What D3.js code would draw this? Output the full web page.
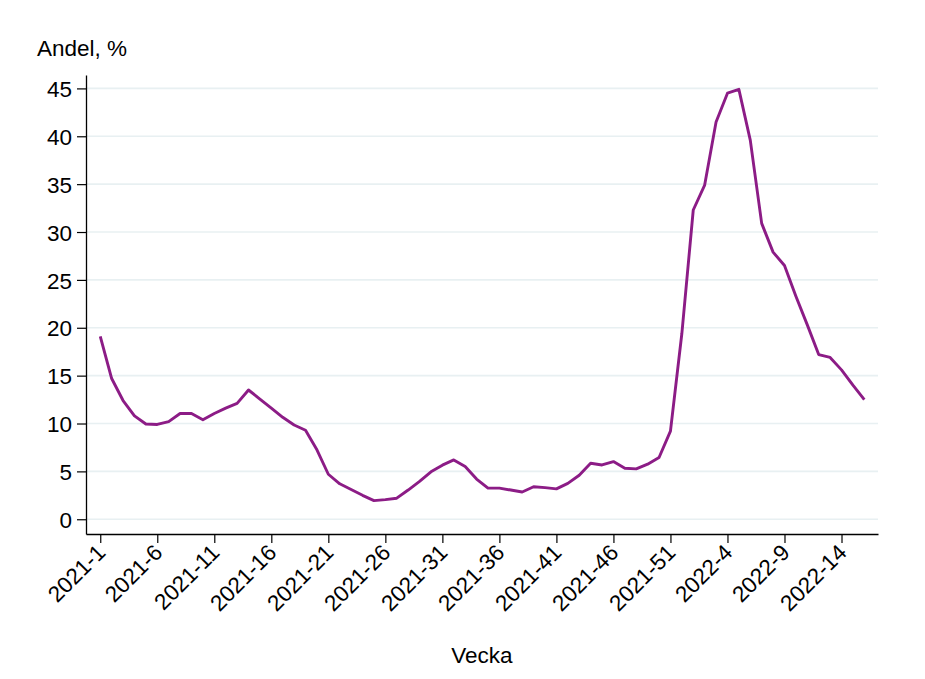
<!DOCTYPE html>
<html><head><meta charset="utf-8">
<script src="https://cdn.jsdelivr.net/npm/d3@7"></script>
<style>body{margin:0;background:#fff}text{font-family:"Liberation Sans",Arial,sans-serif;fill:#000}</style>
</head><body><svg id="c" width="925" height="679"></svg>
<script>
const weeks = [
"2021-1","2021-2","2021-3","2021-4","2021-5","2021-6","2021-7","2021-8","2021-9","2021-10",
"2021-11","2021-12","2021-13","2021-14","2021-15","2021-16","2021-17","2021-18","2021-19","2021-20",
"2021-21","2021-22","2021-23","2021-24","2021-25","2021-26","2021-27","2021-28","2021-29","2021-30",
"2021-31","2021-32","2021-33","2021-34","2021-35","2021-36","2021-37","2021-38","2021-39","2021-40",
"2021-41","2021-42","2021-43","2021-44","2021-45","2021-46","2021-47","2021-48","2021-49","2021-50",
"2021-51","2021-52","2022-1","2022-2","2022-3","2022-4","2022-5","2022-6","2022-7","2022-8",
"2022-9","2022-10","2022-11","2022-12","2022-13","2022-14","2022-15"];
const andel = [
19.1,14.7,12.4,10.8,9.95,9.9,10.2,11.05,11.05,10.4,
11.05,11.6,12.1,13.5,12.55,11.6,10.65,9.85,9.3,7.25,
4.7,3.7,3.1,2.5,1.95,2.05,2.2,3.05,3.95,4.95,
5.65,6.2,5.5,4.2,3.25,3.25,3.05,2.85,3.4,3.3,
3.17,3.75,4.6,5.85,5.67,6.02,5.33,5.26,5.75,6.45,
9.2,19.4,32.3,34.9,41.5,44.5,44.9,39.6,30.9,27.9,
26.5,23.3,20.3,17.2,16.9,15.6,14.0,12.5];
const xTickLabels = ["2021-1","2021-6","2021-11","2021-16","2021-21","2021-26","2021-31","2021-36","2021-41","2021-46","2021-51","2022-4","2022-9","2022-14"];
const yTicks = [0,5,10,15,20,25,30,35,40,45];
const yTitle = "Andel, %";
const xTitle = "Vecka";

const FS = "22.5px";
const svg = d3.select("#c");
const L = 86, R = 878, T = 75, B = 534;
const x = d3.scaleLinear().domain([-1.25, 68.2]).range([L, R]);
const y = d3.scaleLinear().domain([-1.54, 46.4]).range([B, T]);

// gridlines
svg.append("g").selectAll("line").data(yTicks).join("line")
  .attr("x1", L+1).attr("x2", R).attr("y1", d=>y(d)).attr("y2", d=>y(d))
  .attr("stroke", "#e8f0f2").attr("stroke-width", 1.6);

// y axis
const ya = svg.append("g").attr("transform", `translate(${L},0)`)
  .call(d3.axisLeft(y).tickValues(yTicks).tickSize(9).tickPadding(5).tickSizeOuter(0));
ya.attr("font-size", null).attr("font-family", null);
ya.select(".domain").attr("stroke", "#000").attr("stroke-width", 1.3);
ya.selectAll(".tick line").attr("stroke", "#000").attr("stroke-width", 1.2);
ya.selectAll(".tick text").style("font-size", FS).attr("dy", "0.36em");

// x axis
const tickIdx = xTickLabels.map(l => weeks.indexOf(l));
const xa = svg.append("g").attr("transform", `translate(0,${B})`)
  .call(d3.axisBottom(x).tickValues(tickIdx).tickFormat(i => weeks[i]).tickSize(9).tickSizeOuter(0));
xa.attr("font-size", null).attr("font-family", null);
xa.select(".domain").attr("stroke", "#000").attr("stroke-width", 1.3);
xa.selectAll(".tick line").attr("stroke", "#000").attr("stroke-width", 1.2);
xa.selectAll(".tick text")
  .style("font-size", FS)
  .attr("text-anchor", "end").attr("dy", null).attr("y", 0)
  .attr("transform", "translate(6,20) rotate(-45)");

// line
svg.append("path").datum(andel)
  .attr("fill", "none").attr("stroke", "#8c1c86").attr("stroke-width", 2.9)
  .attr("stroke-linejoin", "round")
  .attr("d", d3.line().x((d,i)=>x(i)).y(d=>y(d)));

// titles
svg.append("text").attr("x", 37).attr("y", 56).style("font-size", FS).text(yTitle);
svg.append("text").attr("x", (L+R)/2).attr("y", 663).attr("text-anchor", "middle").style("font-size", FS).text(xTitle);
</script></body></html>
